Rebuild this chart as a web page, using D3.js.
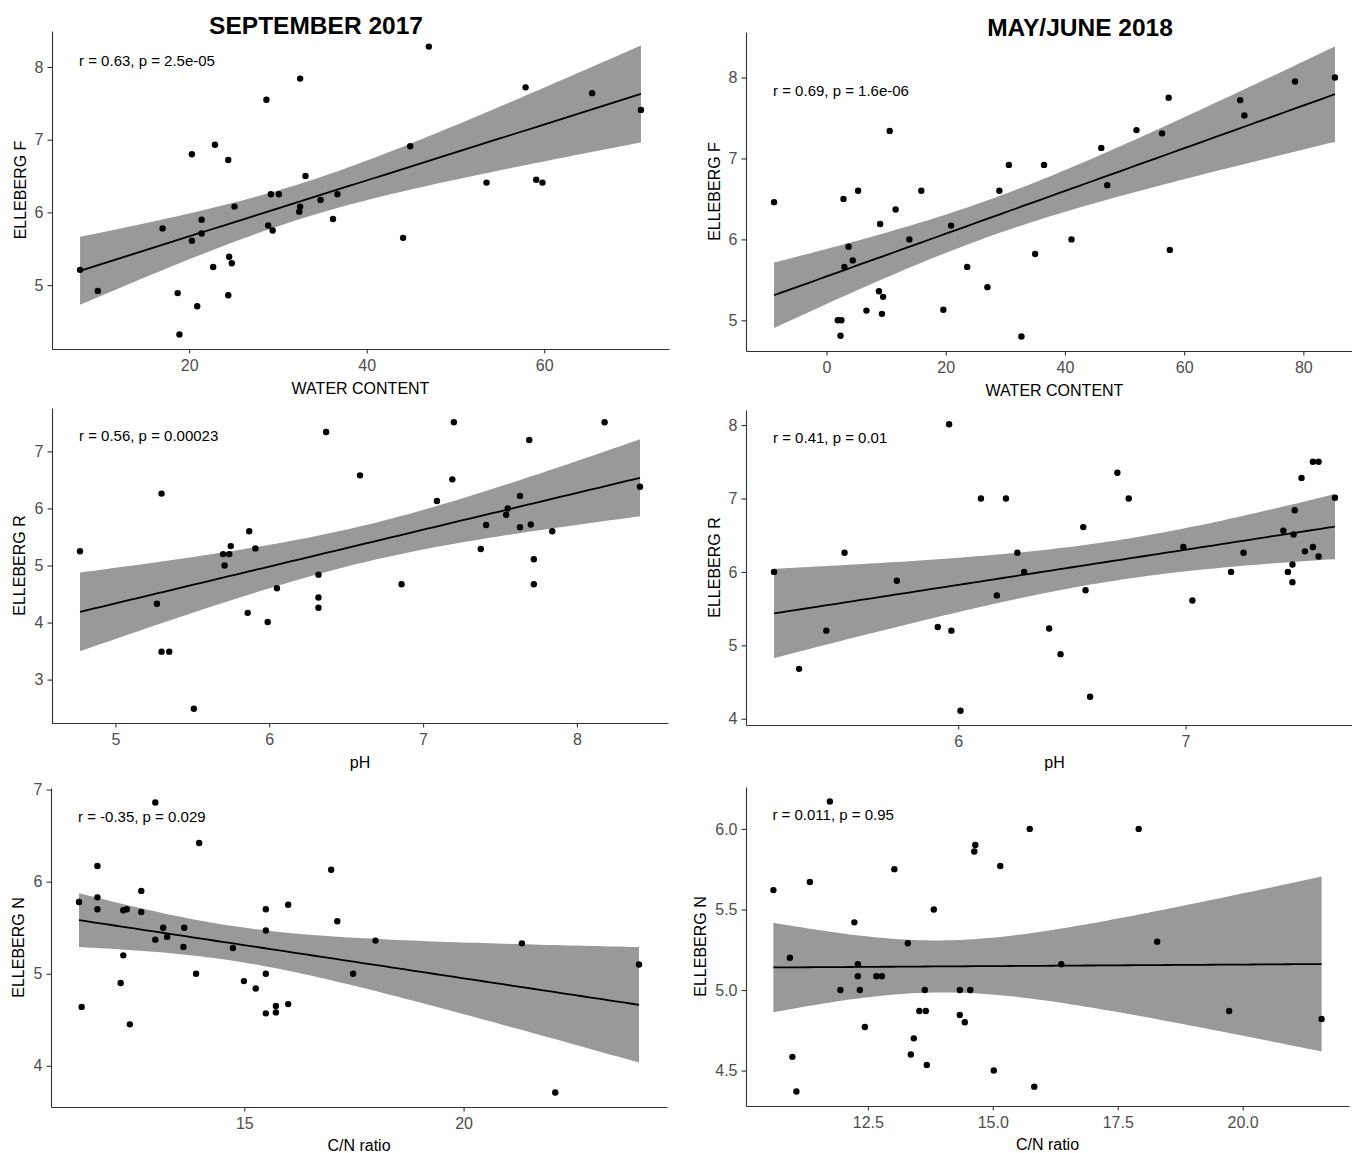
<!DOCTYPE html>
<html>
<head>
<meta charset="utf-8">
<script src="https://cdn.jsdelivr.net/npm/d3@7"></script>
<style>
  html, body { margin: 0; padding: 0; background: #ffffff; }
  svg { display: block; overflow: hidden; }
  text { font-family: "Liberation Sans", Arial, sans-serif; }
</style>
</head>
<body>
<svg id="fig" width="1352" height="1153"></svg>
<script>
// ---------- September 2017 ----------
const sepWater = [7.7, 9.7, 17.0, 20.3, 20.3, 18.7, 18.9, 20.9, 21.4, 21.4, 22.9, 22.7, 24.4, 24.5, 24.8, 24.4, 25.1,
  28.7, 29.2, 30.1, 28.9, 29.4, 32.5, 33.1, 32.5, 32.4, 34.8, 36.2, 36.7, 47.0, 44.9, 44.1, 53.5, 57.9, 59.1, 59.8, 65.4, 70.9];
const sepF = [5.21, 4.92, 5.78, 6.80, 5.61, 4.89, 4.32, 4.71, 5.90, 5.71, 6.93, 5.25, 6.72, 5.39, 5.30, 4.86, 6.08,
  7.55, 6.25, 6.25, 5.82, 5.75, 7.84, 6.50, 6.08, 6.01, 6.17, 5.91, 6.25, 8.28, 6.91, 5.65, 6.41, 7.72, 6.45, 6.41, 7.64, 7.41];

const sepPH = [4.77, 5.27, 5.30, 5.30, 5.35, 5.51, 5.70, 5.74, 5.71, 5.75, 5.87, 5.91, 5.86, 5.99, 6.05, 6.32, 6.32, 6.32,
  6.37, 6.59, 6.86, 7.09, 7.20, 7.19, 7.375, 7.41, 7.55, 7.54, 7.63, 7.63, 7.69, 7.70, 7.72, 7.72, 7.84, 8.18, 8.41];
const sepR = [5.25, 4.33, 6.26, 3.49, 3.49, 2.49, 5.20, 5.20, 5.00, 5.34, 5.60, 5.30, 4.17, 4.01, 4.60, 4.84, 4.44, 4.26,
  7.34, 6.58, 4.67, 6.13, 7.51, 6.51, 5.29, 5.71, 6.00, 5.89, 6.22, 5.67, 7.20, 5.72, 5.11, 4.67, 5.60, 7.51, 6.38];

const sepCN = [11.23, 11.29, 11.65, 11.65, 11.65, 12.24, 12.18, 12.24, 12.32, 12.39, 12.65, 12.65, 12.97, 12.97, 13.15,
  13.24, 13.61, 13.63, 13.90, 13.97, 14.74, 14.99, 15.26, 15.49, 15.49, 15.49, 15.49, 15.72, 15.72, 16.0, 16.0, 16.98,
  17.12, 17.99, 17.48, 21.33, 22.09, 24.0];
const sepN = [5.78, 4.64, 6.17, 5.83, 5.70, 5.20, 4.90, 5.69, 5.70, 4.45, 5.90, 5.67, 6.86, 5.37, 5.50,
  5.40, 5.29, 5.50, 5.00, 6.42, 5.28, 4.92, 4.84, 5.70, 5.47, 5.00, 4.57, 4.65, 4.58, 5.75, 4.67, 6.13,
  5.57, 5.36, 5.00, 5.33, 3.71, 5.10];

// ---------- May/June 2018 ----------
const mayWater = [-8.8, 2.85, 5.3, 10.6, 11.6, 9.0, 15.9, 13.9, 20.9, 3.7, 4.4, 3.0, 8.8, 9.5, 6.7, 9.3, 1.9, 2.5, 2.35,
  19.6, 23.6, 27.0, 29.0, 30.6, 32.7, 36.5, 35.0, 41.1, 46.1, 47.1, 52.0, 56.3, 57.4, 57.6, 69.4, 70.1, 78.6, 85.3];
const mayF = [6.46, 6.50, 6.60, 7.34, 6.37, 6.19, 6.60, 6.00, 6.17, 5.91, 5.74, 5.66, 5.36, 5.29, 5.12, 5.08, 5.00, 5.00, 4.81,
  5.13, 5.66, 5.41, 6.60, 6.92, 4.80, 6.92, 5.82, 6.00, 7.13, 6.67, 7.35, 7.31, 7.75, 5.87, 7.72, 7.53, 7.95, 8.00];

const mayPH = [5.19, 5.30, 5.42, 5.50, 5.73, 5.91, 5.97, 5.96, 6.01, 6.10, 6.17, 6.21, 6.26, 6.29, 6.40, 6.45, 6.55, 6.56,
  6.58, 6.70, 6.75, 6.99, 7.03, 7.20, 7.255, 7.43, 7.45, 7.47, 7.47, 7.475, 7.48, 7.51, 7.525, 7.56, 7.56, 7.585, 7.585, 7.657];
const mayR = [6.00, 4.68, 5.20, 6.26, 5.88, 5.25, 5.20, 8.01, 4.11, 7.00, 5.68, 7.00, 6.26, 6.00, 5.23, 4.88, 6.61, 5.75,
  4.30, 7.35, 7.00, 6.34, 5.61, 6.00, 6.26, 6.56, 6.00, 6.10, 5.86, 6.51, 6.84, 7.28, 6.28, 6.34, 7.50, 7.50, 6.21, 7.01];

const mayCN = [10.61, 10.94, 10.99, 11.07, 11.34, 11.74, 11.95, 12.23, 12.30, 12.30, 12.34, 12.44, 12.67, 12.78, 13.03,
  13.30, 13.36, 13.42, 13.53, 13.66, 13.64, 13.68, 13.82, 14.34, 14.34, 14.44, 14.55, 14.63, 14.65, 15.02, 15.15, 15.74,
  15.83, 16.37, 17.92, 18.29, 19.73, 21.58];
const mayN = [5.62, 5.20, 4.585, 4.37, 5.67, 6.17, 5.00, 5.42, 5.16, 5.085, 5.00, 4.77, 5.085, 5.085, 5.75,
  5.29, 4.60, 4.70, 4.87, 4.87, 5.00, 4.535, 5.50, 5.00, 4.845, 4.80, 5.00, 5.86, 5.90, 4.50, 5.77, 6.00,
  4.40, 5.16, 6.00, 5.30, 4.87, 4.82];

// ---------- tick values ----------
const sepWaterTicks = [20, 40, 60];
const mayWaterTicks = [0, 20, 40, 60, 80];
const fTicks = [5, 6, 7, 8];
const sepPHTicks = [5, 6, 7, 8];
const mayPHTicks = [6, 7];
const sepRTicks = [3, 4, 5, 6, 7];
const mayRTicks = [4, 5, 6, 7, 8];
const sepCNTicks = [15, 20];
const mayCNTicks = [12.5, 15.0, 17.5, 20.0];
const sepNTicks = [4, 5, 6, 7];
const mayNTicks = [4.5, 5.0, 5.5, 6.0];

// ---------- text ----------
const columnTitles = ["SEPTEMBER 2017", "MAY/JUNE 2018"];
const corrLabels = [
  "r = 0.63, p = 2.5e-05", "r = 0.69, p = 1.6e-06",
  "r = 0.56, p = 0.00023", "r = 0.41, p = 0.01",
  "r = -0.35, p = 0.029", "r = 0.011, p = 0.95"
];

// ---------- layout ----------
const panels = [
  { x: sepWater, y: sepF, xt: sepWaterTicks, yt: fTicks, xf: "d", yf: "d", xTitle: "WATER CONTENT", yTitle: "ELLEBERG F",
    label: corrLabels[0], box: { l: 52, r: 669, t: 31, b: 349 }, yTitleX: 20.5, xTitleDy: 45, labelDy: 35 },
  { x: mayWater, y: mayF, xt: mayWaterTicks, yt: fTicks, xf: "d", yf: "d", xTitle: "WATER CONTENT", yTitle: "ELLEBERG F",
    label: corrLabels[1], box: { l: 746, r: 1363, t: 32, b: 351 }, yTitleX: 714, xTitleDy: 44.5, labelDy: 63.5 },
  { x: sepPH, y: sepR, xt: sepPHTicks, yt: sepRTicks, xf: "d", yf: "d", xTitle: "pH", yTitle: "ELLEBERG R",
    label: corrLabels[2], box: { l: 52, r: 668, t: 408, b: 723 }, yTitleX: 19, xTitleDy: 44.5, labelDy: 32.5 },
  { x: mayPH, y: mayR, xt: mayPHTicks, yt: mayRTicks, xf: "d", yf: "d", xTitle: "pH", yTitle: "ELLEBERG R",
    label: corrLabels[3], box: { l: 746, r: 1363, t: 410, b: 725 }, yTitleX: 714, xTitleDy: 43, labelDy: 32.5 },
  { x: sepCN, y: sepN, xt: sepCNTicks, yt: sepNTicks, xf: "d", yf: "d", xTitle: "C/N ratio", yTitle: "ELLEBERG N",
    label: corrLabels[4], box: { l: 51, r: 667, t: 788, b: 1107 }, yTitleX: 18.7, xTitleDy: 44, labelDy: 33.5 },
  { x: mayCN, y: mayN, xt: mayCNTicks, yt: mayNTicks, xf: ".1f", yf: ".1f", xTitle: "C/N ratio", yTitle: "ELLEBERG N",
    label: corrLabels[5], box: { l: 746, r: 1349, t: 787, b: 1106 }, yTitleX: 700, xTitleDy: 44, labelDy: 33 }
];

const svg = d3.select("#fig");

// Student t 0.975 quantile (Cornish-Fisher expansion around the normal quantile)
function tQuantile975(df) {
  const z = 1.959964, z3 = z ** 3, z5 = z ** 5, z7 = z ** 7;
  return z + (z3 + z) / (4 * df) + (5 * z5 + 16 * z3 + 3 * z) / (96 * df * df)
    + (3 * z7 + 19 * z5 + 17 * z3 - 15 * z) / (384 * df ** 3);
}

// Ordinary least squares fit with the pieces needed for a 95% confidence band
function fitLm(xs, ys) {
  const n = xs.length, mx = d3.mean(xs), my = d3.mean(ys);
  let sxx = 0, sxy = 0;
  xs.forEach((x, i) => { sxx += (x - mx) ** 2; sxy += (x - mx) * (ys[i] - my); });
  const b = sxy / sxx, a = my - b * mx;
  let sse = 0;
  xs.forEach((x, i) => { sse += (ys[i] - (a + b * x)) ** 2; });
  return { n, mx, sxx, a, b, s: Math.sqrt(sse / (n - 2)), t: tQuantile975(n - 2) };
}

const expand = (lo, hi) => [lo - (hi - lo) * 0.05, hi + (hi - lo) * 0.05];

panels.forEach(p => {
  const box = p.box;
  const g = svg.append("g");
  const fit = fitLm(p.x, p.y);
  const [x0, x1] = d3.extent(p.x);
  const band = d3.range(80).map(i => {
    const xv = x0 + (x1 - x0) * i / 79;
    const f = fit.a + fit.b * xv;
    const se = fit.s * Math.sqrt(1 / fit.n + (xv - fit.mx) ** 2 / fit.sxx);
    return { x: xv, f, lo: f - fit.t * se, hi: f + fit.t * se };
  });
  const yLo = Math.min(d3.min(p.y), d3.min(band, d => d.lo));
  const yHi = Math.max(d3.max(p.y), d3.max(band, d => d.hi));

  const x = d3.scaleLinear().domain(expand(x0, x1)).range([box.l, box.r]);
  const y = d3.scaleLinear().domain(expand(yLo, yHi)).range([box.b, box.t]);

  // confidence band
  g.append("path")
    .datum(band)
    .attr("fill", "#999999")
    .attr("d", d3.area().x(d => x(d.x)).y0(d => y(d.lo)).y1(d => y(d.hi)));

  // fitted line
  g.append("path")
    .datum(band)
    .attr("fill", "none")
    .attr("stroke", "#000000")
    .attr("stroke-width", 1.8)
    .attr("d", d3.line().x(d => x(d.x)).y(d => y(d.f)));

  // observations
  g.append("g").selectAll("circle")
    .data(p.x.map((v, i) => [v, p.y[i]]))
    .join("circle")
    .attr("cx", d => x(d[0]))
    .attr("cy", d => y(d[1]))
    .attr("r", 3.2)
    .attr("fill", "#000000");

  // axes
  const xAxis = g.append("g")
    .attr("transform", `translate(0,${box.b})`)
    .call(d3.axisBottom(x).tickValues(p.xt).tickFormat(d3.format(p.xf)).tickSize(4.5).tickSizeOuter(0).tickPadding(6));
  const yAxis = g.append("g")
    .attr("transform", `translate(${box.l},0)`)
    .call(d3.axisLeft(y).tickValues(p.yt).tickFormat(d3.format(p.yf)).tickSize(4.5).tickSizeOuter(0).tickPadding(4));
  [xAxis, yAxis].forEach(ax => {
    ax.select(".domain").attr("stroke", "#333333").attr("stroke-width", 1.1);
    ax.selectAll(".tick line").attr("stroke", "#333333").attr("stroke-width", 1.1);
    ax.selectAll(".tick text").attr("fill", "#4d4d4d").style("font-size", "16px")
      .style("font-family", '"Liberation Sans", Arial, sans-serif');
  });

  // axis titles
  g.append("text")
    .attr("x", (box.l + box.r) / 2)
    .attr("y", box.b + p.xTitleDy)
    .attr("text-anchor", "middle")
    .style("font-size", "16px")
    .attr("fill", "#000000")
    .text(p.xTitle);
  g.append("text")
    .attr("transform", `translate(${p.yTitleX},${(box.t + box.b) / 2}) rotate(-90)`)
    .attr("text-anchor", "middle")
    .attr("dominant-baseline", "central")
    .style("font-size", "16px")
    .attr("fill", "#000000")
    .text(p.yTitle);

  // correlation annotation
  g.append("text")
    .attr("x", x(x0) - 1)
    .attr("y", box.t + p.labelDy)
    .style("font-size", "15px")
    .attr("fill", "#000000")
    .text(p.label);
});

// column titles
svg.append("text")
  .attr("x", 316).attr("y", 34)
  .attr("text-anchor", "middle")
  .style("font-size", "24.5px").style("font-weight", "bold")
  .text(columnTitles[0]);
svg.append("text")
  .attr("x", 1080).attr("y", 36)
  .attr("text-anchor", "middle")
  .style("font-size", "24.5px").style("font-weight", "bold")
  .text(columnTitles[1]);
</script>
</body>
</html>
